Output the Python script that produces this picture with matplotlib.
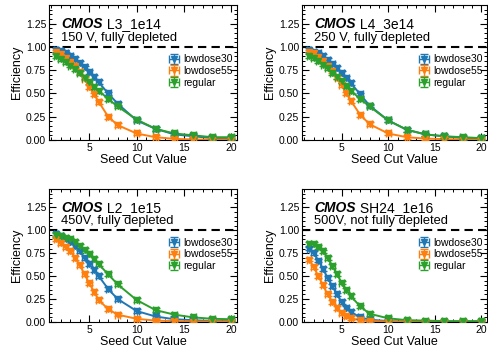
import matplotlib
matplotlib.use("Agg")
import matplotlib.pyplot as plt
from matplotlib.ticker import MultipleLocator

plt.rcParams['font.family'] = ['Liberation Sans', 'DejaVu Sans']

seed_cut = [1.5, 2, 2.5, 3, 3.5, 4, 4.5, 5, 5.5, 6, 7, 8, 10, 12, 14, 16, 18, 20]
series_names = ["lowdose30", "lowdose55", "regular"]
colors = ["#1f77b4", "#ff7f0e", "#2ca02c"]

titles = ["L3_1e14", "L4_3e14", "L2_1e15", "SH24_1e16"]
subtitles = ["150 V, fully depleted", "250 V, fully depleted",
             "450V, fully depleted", "500V, not fully depleted"]

l3_lowdose30 = [0.97, 0.96, 0.93, 0.90, 0.87, 0.83, 0.78, 0.73, 0.68, 0.62, 0.50, 0.39, 0.21, 0.12, 0.06, 0.04, 0.02, 0.02]
l3_lowdose55 = [0.95, 0.92, 0.88, 0.84, 0.79, 0.73, 0.66, 0.57, 0.49, 0.41, 0.25, 0.16, 0.07, 0.03, 0.012, 0.006, 0.004, 0.004]
l3_regular   = [0.90, 0.87, 0.84, 0.80, 0.76, 0.72, 0.67, 0.62, 0.57, 0.53, 0.44, 0.36, 0.22, 0.12, 0.07, 0.05, 0.03, 0.03]

l4_lowdose30 = [0.97, 0.95, 0.93, 0.90, 0.86, 0.82, 0.77, 0.72, 0.67, 0.61, 0.49, 0.37, 0.21, 0.11, 0.06, 0.04, 0.02, 0.02]
l4_lowdose55 = [0.95, 0.93, 0.89, 0.85, 0.80, 0.74, 0.67, 0.59, 0.50, 0.42, 0.27, 0.17, 0.07, 0.03, 0.015, 0.01, 0.005, 0.005]
l4_regular   = [0.90, 0.88, 0.85, 0.81, 0.77, 0.72, 0.68, 0.63, 0.58, 0.53, 0.44, 0.36, 0.21, 0.11, 0.06, 0.04, 0.03, 0.02]

l2_lowdose30 = [0.96, 0.94, 0.91, 0.87, 0.83, 0.77, 0.70, 0.63, 0.57, 0.50, 0.36, 0.25, 0.12, 0.06, 0.03, 0.02, 0.01, 0.01]
l2_lowdose55 = [0.90, 0.86, 0.82, 0.77, 0.70, 0.62, 0.52, 0.42, 0.33, 0.24, 0.14, 0.08, 0.035, 0.015, 0.01, 0.005, 0.005, 0.005]
l2_regular   = [0.95, 0.94, 0.92, 0.90, 0.87, 0.83, 0.79, 0.74, 0.69, 0.63, 0.52, 0.41, 0.24, 0.13, 0.08, 0.05, 0.035, 0.03]

sh24_lowdose30 = [0.80, 0.75, 0.67, 0.58, 0.48, 0.39, 0.30, 0.22, 0.15, 0.11, 0.05, 0.025, 0.01, 0.005, 0.003, 0.002, 0.002, 0.002]
sh24_lowdose55 = [0.68, 0.60, 0.50, 0.40, 0.30, 0.22, 0.15, 0.10, 0.06, 0.04, 0.02, 0.01, 0.005, 0.003, 0.002, 0.002, 0.002, 0.002]
sh24_regular   = [0.85, 0.85, 0.82, 0.77, 0.70, 0.61, 0.52, 0.43, 0.35, 0.28, 0.17, 0.09, 0.04, 0.02, 0.015, 0.01, 0.01, 0.01]

panels = [
    [l3_lowdose30, l3_lowdose55, l3_regular],
    [l4_lowdose30, l4_lowdose55, l4_regular],
    [l2_lowdose30, l2_lowdose55, l2_regular],
    [sh24_lowdose30, sh24_lowdose55, sh24_regular],
]

W, H = 489, 353
fig = plt.figure(figsize=(W / 100, H / 100), dpi=100)

lefts = [49, 302, 49, 302]
rights = [237, 487, 237, 487]
tops = [5, 5, 189, 189]
bottoms = [140, 140, 322, 322]

for i in range(4):
    ax = fig.add_axes([lefts[i] / W, 1 - bottoms[i] / H,
                       (rights[i] - lefts[i]) / W, (bottoms[i] - tops[i]) / H])
    for name, col, vals in zip(series_names, colors, panels[i]):
        ax.plot(seed_cut, vals, color=col, lw=1.4, zorder=2)
        ax.errorbar(seed_cut, vals, xerr=0.25, yerr=0.02, fmt='v', ms=3.8,
                    color=col, ecolor=col, elinewidth=1.0, capsize=2.8,
                    capthick=1.0, label=name, zorder=3)
    ax.axhline(1.0, color='black', ls=(0, (4, 2.5)), lw=1.5, zorder=1)
    ax.set_xlim(0.75, 20.6)
    ax.set_ylim(0, 1.45)
    ax.xaxis.set_major_locator(MultipleLocator(5))
    ax.xaxis.set_minor_locator(MultipleLocator(1))
    ax.yaxis.set_major_locator(MultipleLocator(0.25))
    ax.yaxis.set_minor_locator(MultipleLocator(0.05))
    ax.tick_params(which='both', direction='in', top=True, right=True, labelsize=7.5, pad=2)
    ax.tick_params(which='major', length=5, width=0.8)
    ax.tick_params(which='minor', length=2.5, width=0.7)
    ax.set_xlabel("Seed Cut Value", fontsize=9, labelpad=1)
    ax.set_ylabel("Efficiency", fontsize=9, labelpad=2)
    t = ax.text(0.065, 0.83, "CMOS", transform=ax.transAxes, fontsize=10,
                fontweight='bold', fontstyle='italic', va='baseline', ha='left')
    ax.annotate(" " + titles[i], xycoords=t, xy=(1, 0), va='bottom', ha='left',
                fontsize=10)
    ax.text(0.065, 0.735, subtitles[i], transform=ax.transAxes, fontsize=9.3,
            va='baseline', ha='left')
    ax.legend(loc='upper right', bbox_to_anchor=(1.01, 0.68), frameon=False,
              fontsize=7.5, handlelength=1.2, handletextpad=0.3, labelspacing=0.15,
              borderaxespad=0.2)

fig.savefig("out.png", dpi=100)
